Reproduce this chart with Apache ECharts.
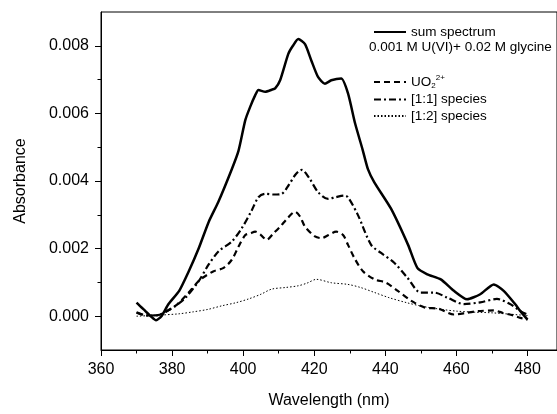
<!DOCTYPE html>
<html><head><meta charset="utf-8">
<script src="https://cdn.jsdelivr.net/npm/echarts@6/dist/echarts.min.js"></script>
<style>html,body{margin:0;padding:0;background:#fff}#c{width:557px;height:414px}</style>
</head><body><div id="c"></div>
<script>
// ---- data ----
const xTicks = [360, 380, 400, 420, 440, 460, 480];
const xMinorTicks = [370, 390, 410, 430, 450, 470];
const yTicks = [0, 0.002, 0.004, 0.006, 0.008];
const yMinorTicks = [0.001, 0.003, 0.005, 0.007];

const sumX = [370,371,372,374,375.5,377,379,382,384.7,387.5,390.3,393,396.8,398.7,400.6,402,403.4,404.3,406.2,408,409,410.4,412.7,414,415.5,417.4,419.2,421.1,423,424.8,427.6,429.5,431.5,433.6,435.1,436.9,441.6,446.4,449,451.8,455.6,459.3,463,466.7,470.5,473.3,476.5,478,480];
const sumY = [0.0004,0.0003,0.0002,0.0000,-0.00012,0.0000,0.00036,0.00075,0.00133,0.00201,0.00279,0.00338,0.00435,0.0049,0.0058,0.0062,0.00654,0.00669,0.00664,0.0067,0.00674,0.00698,0.00776,0.008,0.0082,0.00805,0.00756,0.00707,0.00688,0.00698,0.00703,0.00659,0.0057,0.00493,0.00435,0.00396,0.00318,0.00211,0.00143,0.00124,0.00109,0.00075,0.0005,0.00065,0.00094,0.00075,0.00036,0.00015,-0.0001];

const uoX = [370,373,376,378,381,384,387.5,389.4,391.7,394.5,396.8,398.7,400.6,402,403.4,405,406.6,408.5,410.4,412.5,414.6,416,417.4,420.2,422,424,426.2,428.1,429.5,431.3,433.7,437,440.2,443.5,447.2,451,455,459.3,463,466,470.5,473,476.1,478,480];
const uoY = [0.0001,0.00002,0.00003,0.00012,0.00031,0.00062,0.00104,0.00119,0.00133,0.00143,0.00167,0.00206,0.0024,0.00245,0.0025,0.0024,0.00226,0.00245,0.00265,0.0029,0.00309,0.00295,0.00265,0.00236,0.00231,0.0024,0.0025,0.0024,0.00211,0.00172,0.00133,0.00109,0.00099,0.00075,0.00046,0.00026,0.00022,0.00005,0.0001,0.00015,0.00017,0.0001,0.00002,-0.00005,-0.0001];

const s11X = [370,373,376,378,381,383.8,387.5,390.3,393.1,396.8,399.6,402.4,404.3,406.2,408.5,410.8,412.7,414.8,416.5,418.5,421.1,423.9,426,428.5,429.5,432.3,436,438.8,442.5,446.2,450,453.7,457.4,462.1,466.7,471.4,475.1,478,480];
const s11Y = [0.00012,0.00002,0.00003,0.00012,0.00031,0.00055,0.00104,0.00153,0.00192,0.00221,0.0026,0.00313,0.00352,0.00362,0.0036,0.00362,0.00386,0.0042,0.00433,0.0041,0.00367,0.00347,0.00352,0.00357,0.00352,0.00299,0.00211,0.00187,0.00158,0.00114,0.0007,0.0007,0.00055,0.00036,0.00041,0.00051,0.00036,0.00015,0.00005];

const s12X = [370,376,381.9,386,390,394.1,398,401.5,405,408,412,415.5,418,420.6,424.8,429.5,433,437,441,446,451,456,460,465,470,475,480];
const s12Y = [0,0.00003,0.00007,0.00013,0.0002,0.00031,0.0004,0.00051,0.00065,0.0008,0.00085,0.0009,0.00098,0.00109,0.00099,0.00094,0.00085,0.0007,0.00055,0.0004,0.00028,0.0002,0.00015,0.00012,0.0001,0.00006,0.00002];

const seriesNames = ['sum spectrum', 'UO2', '[1:1] species', '[1:2] species'];
const noteText = '0.001 M U(VI)+ 0.02 M glycine';

// ---- chart ----
const zip = (xs, ys) => xs.map((x, i) => [x, ys[i]]);
const FONT = 'Liberation Sans, Arial, sans-serif';
const chart = echarts.init(document.getElementById('c'), null, {renderer: 'canvas'});
const axisFont = {fontFamily: FONT, fontSize: 16, color: '#000'};

const mkLine = (name, data, width, dash, smooth) => ({
  name, type: 'line', data, symbol: 'none', showSymbol: false, smooth: smooth,
  lineStyle: {color: '#000', width, type: dash}, itemStyle: {color: '#000'},
  animation: false, z: 3
});

const legendCommon = {
  orient: 'vertical', itemWidth: 32, itemHeight: 14,
  itemStyle: {opacity: 0},
  selectedMode: false
};

chart.setOption({
  animation: false,
  backgroundColor: '#fff',
  grid: {left: 101, right: -3, top: 12, bottom: 61, show: true, borderColor: '#000', borderWidth: 1, backgroundColor: 'transparent'},
  xAxis: [{
    type: 'value', min: 360, max: 488.3,
    name: 'Wavelength (nm)', nameLocation: 'middle', nameGap: 43,
    nameTextStyle: axisFont,
    axisLine: {show: true, onZero: false, lineStyle: {color: '#000', width: 1}},
    axisTick: {show: true, inside: false, length: 6, customValues: xTicks, lineStyle: {color: '#000'}},
    axisLabel: {show: true, margin: 12, customValues: xTicks, ...axisFont},
    splitLine: {show: false}
  }, {
    type: 'value', min: 360, max: 488.3, position: 'bottom',
    axisLine: {show: false, onZero: false},
    axisTick: {show: true, inside: false, length: 3.5, customValues: xMinorTicks, lineStyle: {color: '#000'}},
    axisLabel: {show: false},
    splitLine: {show: false}
  }],
  yAxis: [{
    type: 'value', min: -0.001, max: 0.009,
    name: 'Absorbance', nameLocation: 'middle', nameGap: 72, nameRotate: 90,
    nameTextStyle: axisFont,
    axisLine: {show: true, onZero: false, lineStyle: {color: '#000', width: 1}},
    axisTick: {show: true, inside: false, length: 6, customValues: yTicks, lineStyle: {color: '#000'}},
    axisLabel: {show: true, margin: 12, customValues: yTicks, formatter: v => v.toFixed(3), ...axisFont},
    splitLine: {show: false}
  }, {
    type: 'value', min: -0.001, max: 0.009, position: 'left',
    axisLine: {show: false, onZero: false},
    axisTick: {show: true, inside: false, length: 3.5, customValues: yMinorTicks, lineStyle: {color: '#000'}},
    axisLabel: {show: false},
    splitLine: {show: false}
  }],
  legend: [{
    ...legendCommon,
    data: [seriesNames[0]],
    left: 368, top: 20, itemGap: 3,
    textStyle: {fontFamily: FONT, fontSize: 13.5, color: '#000'}
  }, {
    ...legendCommon,
    data: seriesNames.slice(1),
    left: 368, top: 69, itemGap: 2.5,
    textStyle: {fontFamily: FONT, fontSize: 13.5, color: '#000',
      rich: {
        b: {fontFamily: FONT, fontSize: 13.5, color: '#000'},
        sub: {fontFamily: FONT, fontSize: 8, color: '#000', padding: [8, 0, 0, 0]},
        sup: {fontFamily: FONT, fontSize: 8, color: '#000', padding: [0, 0, 8, 0]}
      }},
    formatter: n => n === 'UO2' ? '{b|UO}{sub|2}{sup|2+}' : n
  }],
  graphic: [{
    type: 'text', left: 369, top: 40,
    style: {text: noteText, fontFamily: FONT, fontSize: 13.5, fill: '#000'}
  }],
  series: [
    mkLine(seriesNames[0], zip(sumX, sumY), 2.5, 'solid', 0.2),
    mkLine(seriesNames[1], zip(uoX, uoY), 2.2, [6, 4], 0.3),
    mkLine(seriesNames[2], zip(s11X, s11Y), 2.2, [7, 3, 2, 3], 0.3),
    mkLine(seriesNames[3], zip(s12X, s12Y), 1, [1.5, 2], 0.3)
  ]
});
</script></body></html>
